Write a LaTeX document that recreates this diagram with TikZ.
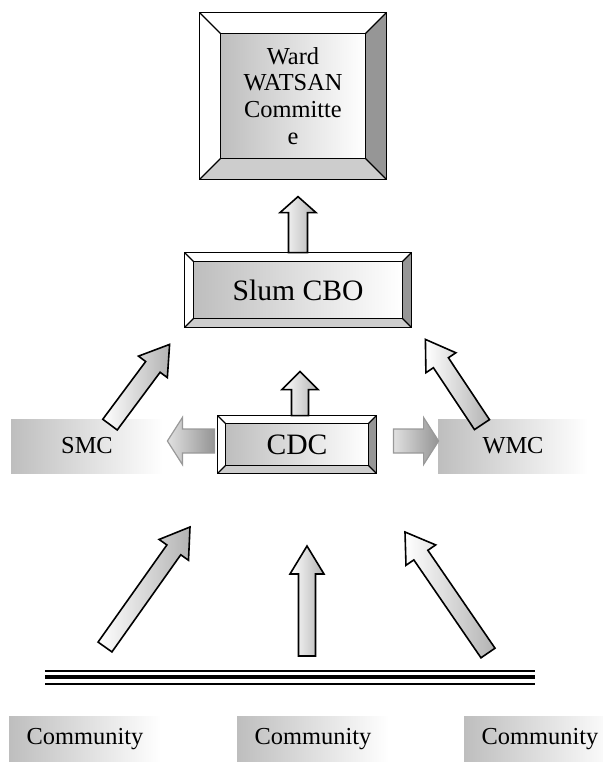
\documentclass[tikz,border=0pt]{standalone}
\usepackage{fontspec}
\setmainfont{Liberation Serif}
\usetikzlibrary{calc,positioning}
\definecolor{FaceGray}{RGB}{190,190,190}
\definecolor{BevelDark}{RGB}{150,150,150}
\definecolor{BevelLight}{RGB}{205,205,205}
\newcommand{\smallfont}{\fontsize{12.2}{13.4}\selectfont}
\newcommand{\bigfont}{\fontsize{14.8}{16}\selectfont}
% block arrow: from, to, half shaft, half head, head length, style
\newcommand{\blockarrow}[6]{%
  \coordinate (hb) at ($(#2)!#5!(#1)$);
  \draw[#6] ($(#1)!#3!90:(#2)$) -- ($(hb)!#3!-90:(#1)$) -- ($(hb)!#4!-90:(#1)$)
    -- (#2) -- ($(hb)!#4!90:(#1)$) -- ($(hb)!#3!90:(#1)$) -- ($(#1)!#3!-90:(#2)$) -- cycle;}
% bevel frame round a node: name, depth
\newcommand{\bevelbox}[2]{%
  \fill[white] (#1.north west) -- ([shift={(-#2,-#2)}]#1.north west)
    -- ([shift={(#2,-#2)}]#1.north east) -- (#1.north east) -- cycle;
  \fill[white] (#1.north west) -- ([shift={(-#2,-#2)}]#1.north west)
    -- ([shift={(-#2,#2)}]#1.south west) -- (#1.south west) -- cycle;
  \fill[BevelDark] (#1.north east) -- ([shift={(#2,-#2)}]#1.north east)
    -- ([shift={(#2,#2)}]#1.south east) -- (#1.south east) -- cycle;
  \fill[BevelLight] (#1.south west) -- ([shift={(-#2,#2)}]#1.south west)
    -- ([shift={(#2,#2)}]#1.south east) -- (#1.south east) -- cycle;
  \draw[line width=0.8pt] ([shift={(-#2,-#2)}]#1.north west) rectangle ([shift={(#2,#2)}]#1.south east);
  \draw[line width=0.8pt] (#1.north west) rectangle (#1.south east);
  \draw[line width=0.6pt] (#1.north west) -- ([shift={(-#2,-#2)}]#1.north west)
    (#1.north east) -- ([shift={(#2,-#2)}]#1.north east)
    (#1.south east) -- ([shift={(#2,#2)}]#1.south east)
    (#1.south west) -- ([shift={(-#2,#2)}]#1.south west);}

\begin{document}
\begin{tikzpicture}[x=0.5pt,y=-0.5pt,
  bevelface/.style={left color=FaceGray,right color=white,inner sep=0pt},
  flatbox/.style={left color=FaceGray,right color=white,inner sep=0pt,
    minimum width=76pt,minimum height=27pt,font=\smallfont},
  uparrow/.style={draw,line width=0.8pt,line join=miter,left color=white,right color=black!30},
  sidearrow/.style={draw=black!40,line width=0.6pt,left color=black!12,right color=black!42}]
  \useasboundingbox (0,0) rectangle (603,762);

  % boxes
  \node[bevelface,minimum width=72pt,minimum height=62pt,align=center,font=\smallfont]
    (ward) at (293,96) {Ward\\WATSAN\\Committe\\e};
  \bevelbox{ward}{21}
  \node[bevelface,minimum width=104pt,minimum height=28pt,font=\bigfont] (cbo) at (298,290) {Slum CBO};
  \bevelbox{cbo}{9}
  \node[bevelface,minimum width=71pt,minimum height=20.5pt,font=\bigfont] (cdc) at (297,444.5) {CDC};
  \bevelbox{cdc}{8}
  \node[flatbox] (smc) at (87,446) {SMC};
  \node[flatbox,minimum width=75pt] (wmc) at (513,446) {WMC};
  \foreach \cx [count=\i] in {85,313,540}
    \node[flatbox,minimum height=23pt] (com\i) at (\cx,739) {Community};

  % triple line
  \coordinate (lineL) at (45,677);
  \coordinate (lineR) at (535,677);
  \draw[line width=1pt] ($(lineL)+(0,-6)$) -- ($(lineR)+(0,-6)$);
  \draw[line width=2pt] (lineL) -- (lineR);
  \draw[line width=1pt] ($(lineL)+(0,7)$) -- ($(lineR)+(0,7)$);

  % arrow ends
  \coordinate (cboout) at ($(cbo.north)+(0,-9)$);
  \coordinate (wardin) at ($(cbo.north)+(0,-65)$);
  \coordinate (cdcout) at ($(cdc.north)+(3,-8)$);
  \coordinate (cboin) at ($(cdc.north)+(3,-52)$);
  \coordinate (smcout) at ($(smc.north)+(23,6)$);
  \coordinate (cboinL) at ($(cbo.south west)+(-24,26)$);
  \coordinate (wmcout) at ($(wmc.north)+(-31,6)$);
  \coordinate (cboinR) at ($(cbo.south east)+(23,21)$);
  \coordinate (cdcL) at ($(cdc.west)+(-11,-3.5)$);
  \coordinate (smcin) at ($(smc.east)+(4,-5)$);
  \coordinate (cdcR) at ($(cdc.east)+(25,-3.5)$);
  \coordinate (wmcin) at ($(wmc.west)+(1,-5)$);
  \coordinate (t1) at (105,647);
  \coordinate (h1) at (190,527);
  \coordinate (t2) at (307,656);
  \coordinate (h2) at (307,546);
  \coordinate (t3) at (488,653);
  \coordinate (h3) at (405,532);

  % arrows
  \blockarrow{cboout}{wardin}{4.75pt}{9pt}{8pt}{uparrow}
  \blockarrow{cdcout}{cboin}{4.25pt}{9pt}{9pt}{uparrow}
  \blockarrow{smcout}{cboinL}{4.5pt}{9pt}{14pt}{uparrow}
  \blockarrow{wmcout}{cboinR}{4.5pt}{9pt}{14pt}{uparrow}
  \blockarrow{cdcL}{smcin}{6pt}{11.75pt}{7.5pt}{sidearrow}
  \blockarrow{cdcR}{wmcin}{6pt}{11.75pt}{7.5pt}{sidearrow}
  \blockarrow{t1}{h1}{4.25pt}{9pt}{14pt}{uparrow}
  \blockarrow{t2}{h2}{4.25pt}{8.5pt}{14pt}{uparrow}
  \blockarrow{t3}{h3}{4.25pt}{9pt}{14pt}{uparrow}
\end{tikzpicture}
\end{document}
